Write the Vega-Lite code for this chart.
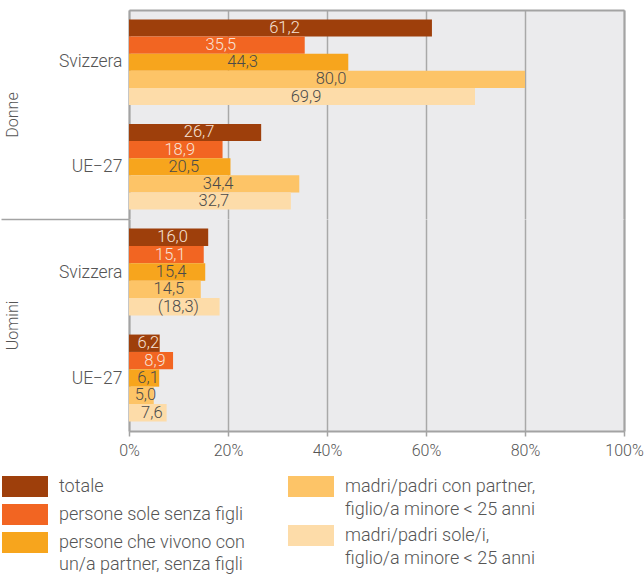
{
  "$schema": "https://vega.github.io/schema/vega-lite/v6.json",
  "autosize": {"type": "pad"},
  "padding": {"left": 0, "top": 10, "right": 2, "bottom": 0},
  "background": "white",
  "spacing": 0,
  "bounds": "flush",
  "config": {
    "font": "Roboto",
    "view": {"stroke": null, "fill": "#ebebed"},
    "axis": {
      "labelFont": "Roboto", "labelFontSize": 16, "labelFontWeight": 300, "labelColor": "#555555",
      "titleFont": "Roboto", "titleFontSize": 16, "titleFontWeight": 300, "titleColor": "#555555",
      "domainColor": "#a3a3a3", "domainWidth": 2, "gridColor": "#a8a8a8", "gridWidth": 1.5,
      "tickColor": "#a3a3a3", "tickWidth": 1.5
    },
    "legend": {
      "symbolType": "M-2.19,-1H2.19V1H-2.19Z", "symbolSize": 441, "symbolStrokeWidth": 0, "symbolOpacity": 1,
      "labelFont": "Roboto", "labelFontSize": 18, "labelFontWeight": 300, "labelColor": "#555555",
      "labelOffset": 23.5, "labelLimit": 400, "padding": 0, "direction": "vertical"
    },
    "concat": {"spacing": 0}
  },
  "data": {"values": [
    {"gender": "Donne", "country": "Svizzera", "series": "totale", "value": 61.2, "label": "61,2"},
    {"gender": "Donne", "country": "Svizzera", "series": "persone sole senza figli", "value": 35.5, "label": "35,5"},
    {"gender": "Donne", "country": "Svizzera", "series": "persone che vivono con un/a partner, senza figli", "value": 44.3, "label": "44,3"},
    {"gender": "Donne", "country": "Svizzera", "series": "madri/padri con partner, figlio/a minore < 25 anni", "value": 80.0, "label": "80,0"},
    {"gender": "Donne", "country": "Svizzera", "series": "madri/padri sole/i, figlio/a minore < 25 anni", "value": 69.9, "label": "69,9"},
    {"gender": "Donne", "country": "UE−27", "series": "totale", "value": 26.7, "label": "26,7"},
    {"gender": "Donne", "country": "UE−27", "series": "persone sole senza figli", "value": 18.9, "label": "18,9"},
    {"gender": "Donne", "country": "UE−27", "series": "persone che vivono con un/a partner, senza figli", "value": 20.5, "label": "20,5"},
    {"gender": "Donne", "country": "UE−27", "series": "madri/padri con partner, figlio/a minore < 25 anni", "value": 34.4, "label": "34,4"},
    {"gender": "Donne", "country": "UE−27", "series": "madri/padri sole/i, figlio/a minore < 25 anni", "value": 32.7, "label": "32,7"},
    {"gender": "Uomini", "country": "Svizzera", "series": "totale", "value": 16.0, "label": "16,0"},
    {"gender": "Uomini", "country": "Svizzera", "series": "persone sole senza figli", "value": 15.1, "label": "15,1"},
    {"gender": "Uomini", "country": "Svizzera", "series": "persone che vivono con un/a partner, senza figli", "value": 15.4, "label": "15,4"},
    {"gender": "Uomini", "country": "Svizzera", "series": "madri/padri con partner, figlio/a minore < 25 anni", "value": 14.5, "label": "14,5"},
    {"gender": "Uomini", "country": "Svizzera", "series": "madri/padri sole/i, figlio/a minore < 25 anni", "value": 18.3, "label": "(18,3)"},
    {"gender": "Uomini", "country": "UE−27", "series": "totale", "value": 6.2, "label": "6,2"},
    {"gender": "Uomini", "country": "UE−27", "series": "persone sole senza figli", "value": 8.9, "label": "8,9"},
    {"gender": "Uomini", "country": "UE−27", "series": "persone che vivono con un/a partner, senza figli", "value": 6.1, "label": "6,1"},
    {"gender": "Uomini", "country": "UE−27", "series": "madri/padri con partner, figlio/a minore < 25 anni", "value": 5.0, "label": "5,0"},
    {"gender": "Uomini", "country": "UE−27", "series": "madri/padri sole/i, figlio/a minore < 25 anni", "value": 7.6, "label": "7,6"}
  ]},
  "resolve": {"scale": {"color": "independent", "x": "independent", "y": "independent", "yOffset": "independent"}},
  "vconcat": [
    {
      "width": 495, "height": 209,
      "transform": [{"filter": "datum.gender === 'Donne'"}],
      "layer": [
        {
          "transform": [{"filter": {"field": "series", "oneOf": ["totale", "persone sole senza figli", "persone che vivono con un/a partner, senza figli"]}}],
          "mark": {"type": "bar"},
          "encoding": {
            "y": {"field": "country", "type": "nominal", "scale": {"domain": ["Svizzera", "UE−27"], "paddingInner": 0, "paddingOuter": 0},
                  "axis": {"title": "Donne", "orient": "left", "ticks": false, "labelPadding": 7, "labelFontSize": 17.5, "titleAngle": -90, "titleX": -117, "titleY": 104.5, "titleAlign": "center", "titleBaseline": "middle"}},
            "yOffset": {"field": "series", "type": "nominal", "scale": {"domain": ["totale", "persone sole senza figli", "persone che vivono con un/a partner, senza figli", "madri/padri con partner, figlio/a minore < 25 anni", "madri/padri sole/i, figlio/a minore < 25 anni"], "paddingInner": 0, "paddingOuter": 0.55}},
            "x": {"field": "value", "type": "quantitative", "scale": {"domain": [0, 100]},
                  "axis": {"orient": "top", "labels": false, "ticks": false, "grid": true, "values": [0, 20, 40, 60, 80, 100], "title": null}},
            "color": {"field": "series", "type": "nominal", "scale": {"domain": ["totale", "persone sole senza figli", "persone che vivono con un/a partner, senza figli"], "range": ["#9e3f0b", "#f26522", "#f7a51d"]}, "legend": null}
          }
        },
        {
          "transform": [{"filter": {"field": "series", "oneOf": ["madri/padri con partner, figlio/a minore < 25 anni", "madri/padri sole/i, figlio/a minore < 25 anni"]}}],
          "mark": {"type": "bar"},
          "encoding": {
            "y": {"field": "country", "type": "nominal", "scale": {"domain": ["Svizzera", "UE−27"], "paddingInner": 0, "paddingOuter": 0}, "axis": null},
            "yOffset": {"field": "series", "type": "nominal", "scale": {"domain": ["totale", "persone sole senza figli", "persone che vivono con un/a partner, senza figli", "madri/padri con partner, figlio/a minore < 25 anni", "madri/padri sole/i, figlio/a minore < 25 anni"], "paddingInner": 0, "paddingOuter": 0.55}},
            "x": {"field": "value", "type": "quantitative", "scale": {"domain": [0, 100]}, "axis": null},
            "color": {"field": "series", "type": "nominal", "scale": {"domain": ["madri/padri con partner, figlio/a minore < 25 anni", "madri/padri sole/i, figlio/a minore < 25 anni"], "range": ["#fdc467", "#fddca9"]}, "legend": null}
          }
        },
        {
          "mark": {"type": "text", "font": "Roboto", "fontSize": 16.5, "fontWeight": 300, "dx": 4, "baseline": "middle"},
          "encoding": {
            "y": {"field": "country", "type": "nominal", "scale": {"domain": ["Svizzera", "UE−27"], "paddingInner": 0, "paddingOuter": 0},
                  "axis": {"orient": "right", "labels": false, "ticks": false, "title": null}},
            "yOffset": {"field": "series", "type": "nominal", "scale": {"domain": ["totale", "persone sole senza figli", "persone che vivono con un/a partner, senza figli", "madri/padri con partner, figlio/a minore < 25 anni", "madri/padri sole/i, figlio/a minore < 25 anni"], "paddingInner": 0, "paddingOuter": 0.55}},
            "x": {"field": "value", "type": "quantitative", "scale": {"domain": [0, 200]}, "axis": null},
            "text": {"field": "label"},
            "color": {"condition": {"test": "datum.series === 'totale' || datum.series === 'persone sole senza figli'", "value": "#f7e3d7"}, "value": "#4a4a4a"}
          }
        }
      ],
      "resolve": {"scale": {"x": "independent", "color": "independent"}, "axis": {"x": "independent", "y": "independent"}}
    },
    {
      "width": 495, "height": 212,
      "transform": [{"filter": "datum.gender === 'Uomini'"}],
      "layer": [
        {
          "transform": [{"filter": {"field": "series", "oneOf": ["totale", "persone sole senza figli", "persone che vivono con un/a partner, senza figli"]}}],
          "mark": {"type": "bar"},
          "encoding": {
            "y": {"field": "country", "type": "nominal", "scale": {"domain": ["Svizzera", "UE−27"], "paddingInner": 0, "paddingOuter": 0},
                  "axis": {"title": "Uomini", "orient": "left", "ticks": true, "tickBand": "extent", "tickSize": 128,
                           "tickOpacity": {"condition": {"test": "!!datum.extra", "value": 1}, "value": 0},
                           "labelPadding": -121, "labelFontSize": 17.5, "titleAngle": -90, "titleX": -117, "titleY": 106, "titleAlign": "center", "titleBaseline": "middle"}},
            "yOffset": {"field": "series", "type": "nominal", "scale": {"domain": ["totale", "persone sole senza figli", "persone che vivono con un/a partner, senza figli", "madri/padri con partner, figlio/a minore < 25 anni", "madri/padri sole/i, figlio/a minore < 25 anni"], "paddingInner": 0, "paddingOuter": 0.55}},
            "x": {"field": "value", "type": "quantitative", "scale": {"domain": [0, 100]},
                  "axis": {"orient": "bottom", "labels": true, "ticks": true, "tickSize": 5, "grid": true, "values": [0, 20, 40, 60, 80, 100], "labelExpr": "datum.value + '%'", "labelFlush": false, "labelPadding": 6, "title": null}},
            "color": {"field": "series", "type": "nominal", "scale": {"domain": ["totale", "persone sole senza figli", "persone che vivono con un/a partner, senza figli"], "range": ["#9e3f0b", "#f26522", "#f7a51d"]},
                      "legend": {"title": null, "orient": "none", "legendX": -114.5, "legendY": 257, "rowPadding": 7,
                                 "labelExpr": "datum.label === 'persone che vivono con un/a partner, senza figli' ? ['persone che vivono con', 'un/a partner, senza figli'] : datum.label",
                                 "encode": {"labels": {"update": {"lineHeight": {"value": 22}}}}}}
          }
        },
        {
          "transform": [{"filter": {"field": "series", "oneOf": ["madri/padri con partner, figlio/a minore < 25 anni", "madri/padri sole/i, figlio/a minore < 25 anni"]}}],
          "mark": {"type": "bar"},
          "encoding": {
            "y": {"field": "country", "type": "nominal", "scale": {"domain": ["Svizzera", "UE−27"], "paddingInner": 0, "paddingOuter": 0}, "axis": null},
            "yOffset": {"field": "series", "type": "nominal", "scale": {"domain": ["totale", "persone sole senza figli", "persone che vivono con un/a partner, senza figli", "madri/padri con partner, figlio/a minore < 25 anni", "madri/padri sole/i, figlio/a minore < 25 anni"], "paddingInner": 0, "paddingOuter": 0.55}},
            "x": {"field": "value", "type": "quantitative", "scale": {"domain": [0, 100]}, "axis": null},
            "color": {"field": "series", "type": "nominal", "scale": {"domain": ["madri/padri con partner, figlio/a minore < 25 anni", "madri/padri sole/i, figlio/a minore < 25 anni"], "range": ["#fdc467", "#fddca9"]},
                      "legend": {"title": null, "orient": "none", "legendX": 171.5, "legendY": 257, "rowPadding": 6,
                                 "labelExpr": "datum.label === 'madri/padri con partner, figlio/a minore < 25 anni' ? ['madri/padri con partner,', 'figlio/a minore < 25 anni'] : datum.label === 'madri/padri sole/i, figlio/a minore < 25 anni' ? ['madri/padri sole/i,', 'figlio/a minore < 25 anni'] : datum.label",
                                 "encode": {"labels": {"update": {"lineHeight": {"value": 23}}}}}}
          }
        },
        {
          "mark": {"type": "text", "font": "Roboto", "fontSize": 16.5, "fontWeight": 300, "dx": 4, "baseline": "middle"},
          "encoding": {
            "y": {"field": "country", "type": "nominal", "scale": {"domain": ["Svizzera", "UE−27"], "paddingInner": 0, "paddingOuter": 0},
                  "axis": {"orient": "right", "labels": false, "ticks": false, "title": null}},
            "yOffset": {"field": "series", "type": "nominal", "scale": {"domain": ["totale", "persone sole senza figli", "persone che vivono con un/a partner, senza figli", "madri/padri con partner, figlio/a minore < 25 anni", "madri/padri sole/i, figlio/a minore < 25 anni"], "paddingInner": 0, "paddingOuter": 0.55}},
            "x": {"field": "value", "type": "quantitative", "scale": {"domain": [0, 200]}, "axis": null},
            "text": {"field": "label"},
            "color": {"condition": {"test": "datum.series === 'totale' || datum.series === 'persone sole senza figli'", "value": "#f7e3d7"}, "value": "#4a4a4a"}
          }
        }
      ],
      "resolve": {"scale": {"x": "independent", "color": "independent"}, "axis": {"x": "independent", "y": "independent"}}
    }
  ]
}
